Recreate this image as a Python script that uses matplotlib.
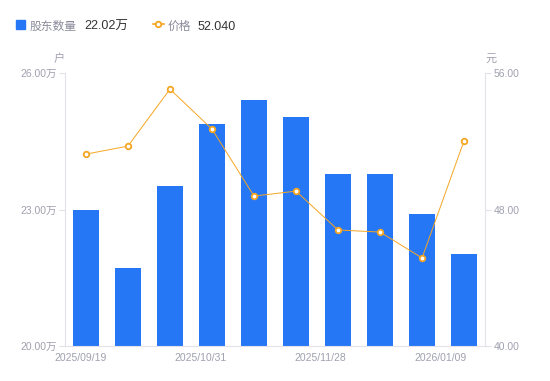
import matplotlib.pyplot as plt
import numpy as np

plt.rcParams['font.family'] = ['Liberation Sans', 'Noto Sans CJK SC', 'DejaVu Sans']

# 数据
dates = ['2025/09/19', '2025/09/30', '2025/10/20', '2025/10/31', '2025/11/10',
         '2025/11/20', '2025/11/28', '2025/12/10', '2025/12/31', '2026/01/09']
holders = [22.99, 21.71, 23.52, 24.88, 25.41, 25.03, 23.78, 23.78, 22.90, 22.02]  # 万户
price = [51.25, 51.72, 55.06, 52.72, 48.79, 49.08, 46.80, 46.68, 45.16, 52.04]  # 元
shown_dates = ['2025/09/19', '2025/10/31', '2025/11/28', '2026/01/09']

blue = '#2677f5'
orange = '#f5a623'
grey = '#a0a0b0'
axis_col = '#e2e2e8'
cjk = ['Noto Sans CJK SC', 'DejaVu Sans']

fig = plt.figure(figsize=(5.5, 3.81), dpi=100)
ax = fig.add_axes([0.118, 0.092, 0.764, 0.716])
ax2 = ax.twinx()

x = np.arange(len(dates))
ax.bar(x, holders, width=0.6, color=blue, zorder=2)
ax2.plot(x, price, color=orange, lw=0.7, marker='o', ms=4,
         mfc='white', mec=orange, mew=1.3, zorder=3)

ax.set_xlim(-0.5, len(dates) - 0.5)
ax.set_ylim(20, 26)
ax2.set_ylim(40, 56)
ax.set_yticks([20, 23, 26])
ax.set_yticklabels([f'{v:.2f}万' for v in [20, 23, 26]])
ax2.set_yticks([40, 48, 56])
ax2.set_yticklabels([f'{v:.2f}' for v in [40, 48, 56]])

# 横轴标签均匀分布
ax.set_xticks(np.linspace(-0.12, 8.43, len(shown_dates)))
ax.set_xticklabels(shown_dates)

for a in (ax, ax2):
    for s in a.spines.values():
        s.set_visible(False)
    a.tick_params(colors=grey, labelsize=7.5, length=4, width=0.8)
    a.tick_params(axis='y', color=axis_col)
ax.spines['left'].set_visible(True)
ax.spines['left'].set_color(axis_col)
ax.spines['bottom'].set_visible(True)
ax.spines['bottom'].set_color(axis_col)
ax2.spines['right'].set_visible(True)
ax2.spines['right'].set_color(axis_col)
ax.tick_params(axis='x', length=0, pad=5)
ax.tick_params(axis='y', pad=2)
ax2.tick_params(axis='y', pad=2)

# 单位
fig.text(0.107, 0.838, '户', color=grey, fontsize=8, ha='center', family=cjk)
fig.text(0.892, 0.838, '元', color=grey, fontsize=8, ha='center', family=cjk)

# 图例
yb = 0.921
fig.patches.append(plt.Rectangle((0.029, 0.924), 0.016, 0.024, color=blue,
                                 transform=fig.transFigure, figure=fig))
fig.text(0.054, yb, '股东数量', color='#8a8a9a', fontsize=8.5, va='baseline', family=cjk)
fig.text(0.153, yb, f'{holders[-1]:.2f}万', color='#333333', fontsize=9, va='baseline')
fig.lines.append(plt.Line2D([0.278, 0.298], [0.936, 0.936], color=orange, lw=1.2,
                            transform=fig.transFigure))
fig.lines.append(plt.Line2D([0.288], [0.936], color=orange, marker='o', ms=4,
                            mfc='white', mec=orange, mew=1.3, transform=fig.transFigure))
fig.text(0.305, yb, '价格', color='#8a8a9a', fontsize=8.5, va='baseline', family=cjk)
fig.text(0.36, yb, f'{price[-1]:.3f}', color='#333333', fontsize=9, va='baseline')

fig.savefig('out.png', dpi=100)
